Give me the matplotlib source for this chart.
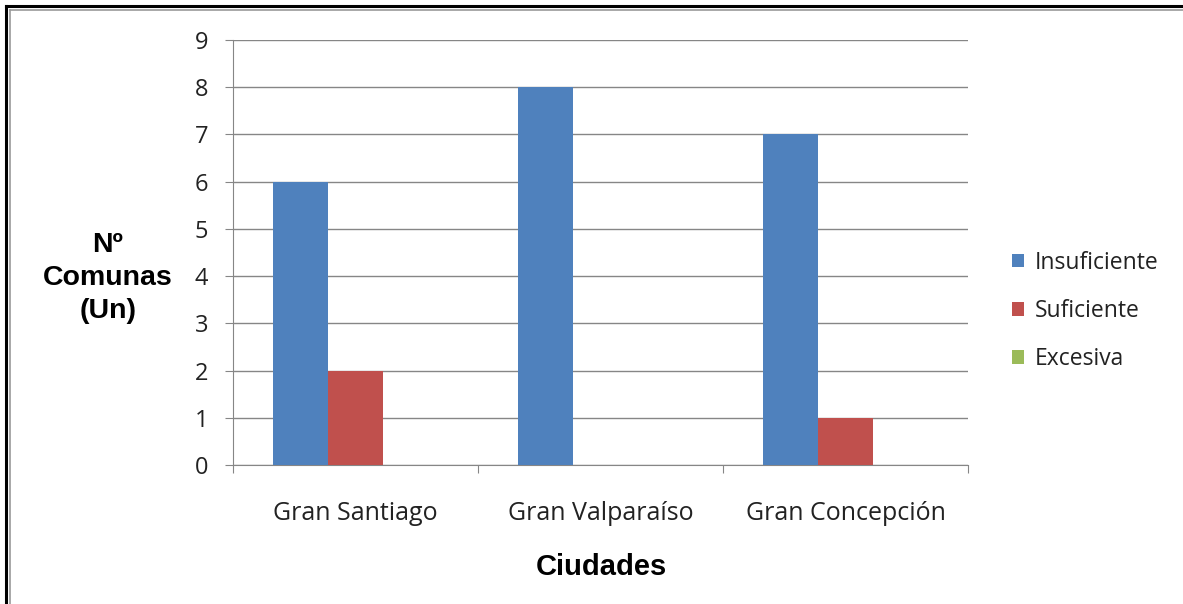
import numpy as np
import matplotlib.pyplot as plt
from matplotlib.lines import Line2D

# ------------------------------ data ------------------------------
ciudades = ['Gran Santiago', 'Gran Valparaíso', 'Gran Concepción']
insuficiente = [6, 8, 7]
suficiente = [2, 0, 1]
excesiva = [0, 0, 0]
series = ['Insuficiente', 'Suficiente', 'Excesiva']
colores = ['#4F81BD', '#C0504D', '#9BBB59']

W, H = 1183, 604
fig = plt.figure(figsize=(W / 100, H / 100), dpi=100)
ax = fig.add_axes([233 / W, 1 - 465 / H, (968 - 233) / W, (465 - 40) / H])

x = np.arange(len(ciudades))
w = 55 / 245
for i, (vals, lab, c) in enumerate(zip([insuficiente, suficiente, excesiva], series, colores)):
    ax.bar(x + (i - 1) * w, vals, w, color=c, label=lab, zorder=3)

ax.set_xlim(-0.5, 2.5)
ax.set_ylim(0, 9)
ax.set_yticks(range(10))
ax.grid(axis='y', color='#868686', linewidth=1, zorder=0)
for s in ['top', 'right']:
    ax.spines[s].set_visible(False)
for s in ['left', 'bottom']:
    ax.spines[s].set_color('#868686')
ax.tick_params(axis='y', length=6, color='#868686', labelsize=17, labelcolor='#222222', pad=12)
ax.set_xticks([-0.5, 0.5, 1.5, 2.5])
ax.set_xticklabels([])
ax.set_xticks(x, minor=True)
ax.set_xticklabels(ciudades, minor=True)
ax.tick_params(axis='x', which='major', length=6, color='#868686')
ax.tick_params(axis='x', which='minor', length=0, labelsize=18, labelcolor='#222222', pad=26)
for t in ax.get_yticklabels() + ax.get_xticklabels(minor=True):
    t.set_family('Open Sans')

fig.text(108 / W, 1 - 278 / H, 'Nº\nComunas\n(Un)', ha='center', va='center', multialignment='center',
         fontsize=20.5, fontweight='bold', family='Liberation Sans', linespacing=1.36)
fig.text(601 / W, 1 - 567 / H, 'Ciudades', ha='center', va='center',
         fontsize=21, fontweight='bold', family='Liberation Sans')

ax.legend(loc='center left', bbox_to_anchor=(1001 / W, 1 - 311 / H), bbox_transform=fig.transFigure,
          frameon=False, prop={'family': 'Open Sans', 'size': 16.5}, handlelength=0.52,
          handleheight=0.52, handletextpad=0.45, labelspacing=1.05, borderpad=0,
          labelcolor='#222222')

# borde del grafico
fig.add_artist(Line2D([6 / W, 6 / W], [0, 1 - 6 / H], color='black', linewidth=2.2, transform=fig.transFigure))
fig.add_artist(Line2D([6 / W, 1], [1 - 6 / H, 1 - 6 / H], color='black', linewidth=2.2, transform=fig.transFigure))
fig.add_artist(Line2D([9.5 / W, 9.5 / W], [0, 1 - 9.5 / H], color='#999999', linewidth=1.2, transform=fig.transFigure))
fig.add_artist(Line2D([9.5 / W, 1], [1 - 9.5 / H, 1 - 9.5 / H], color='#999999', linewidth=1.2, transform=fig.transFigure))

fig.savefig('out.png', dpi=100)
